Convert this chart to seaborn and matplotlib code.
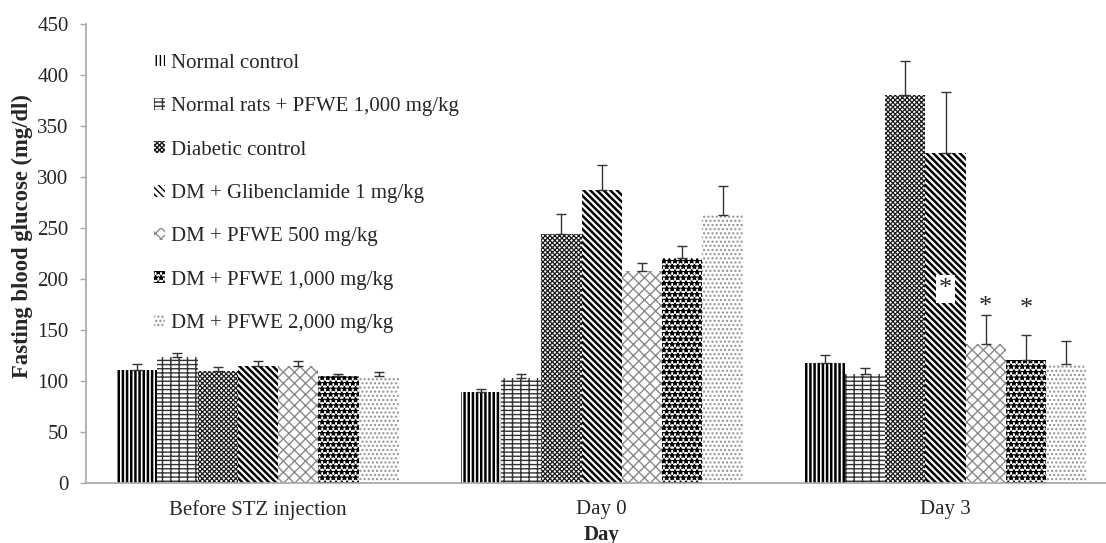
import numpy as np
import pandas as pd
import matplotlib
matplotlib.use("Agg")
import matplotlib.pyplot as plt
import seaborn as sns

days = ["Before STZ injection", "Day 0", "Day 3"]
groups = [
    "Normal control",
    "Normal rats + PFWE 1,000 mg/kg",
    "Diabetic control",
    "DM + Glibenclamide 1 mg/kg",
    "DM + PFWE 500 mg/kg",
    "DM + PFWE 1,000 mg/kg",
    "DM + PFWE 2,000 mg/kg",
]
# mean fasting glucose per group, one list per day
before_stz = [111, 124, 110, 115, 115, 105, 105]
day_0 = [89, 103, 244, 287, 208, 221, 263]
day_3 = [118, 107, 380, 324, 136, 121, 117]
# upper error (SEM) per group, one list per day
before_stz_err = [6, 3, 4, 5, 5, 2, 3.5]
day_0_err = [3.5, 4, 20, 25, 8, 11.5, 28]
day_3_err = [7.5, 5.5, 34, 59, 29, 24.5, 22]
# significance markers on day 3: (group index, y of star, white box)
stars_day3 = [(3, 190, True), (4, 173, False), (5, 171, False)]

means = [before_stz, day_0, day_3]
errs = [before_stz_err, day_0_err, day_3_err]
df = pd.DataFrame({
    "day": np.repeat(days, len(groups)),
    "group": groups * len(days),
    "glucose": np.concatenate(means),
    "err": np.concatenate(errs),
})

sns.set_style("white")
plt.rcParams["font.family"] = ["Liberation Serif", "DejaVu Serif"]
plt.rcParams["hatch.linewidth"] = 1.0

fig = plt.figure(figsize=(11.06, 5.43), dpi=100)
ax = fig.add_axes([0.0778, 0.1105, 0.9325, 0.8453])

sns.barplot(data=df, x="day", y="glucose", hue="group", hue_order=groups,
            order=days, errorbar=None, width=0.82, dodge=True,
            palette=["white"] * len(groups), legend=False, ax=ax)

hatches = ["||||", "----||", "xxxxxxx", "\\\\\\\\\\", "xxx", "***", "...."]
hatch_colors = ["black", "#333333", "#1a1a1a", "black", "#8a8a8a", "black", "#8f8f8f"]
hatch_lws = [1.8, 1.0, 0.9, 1.8, 1.0, 1.0, 1.0]
for cont, h, hc, hl in zip(ax.containers, hatches, hatch_colors, hatch_lws):
    for p in cont.patches:
        p.set_hatch(h)
        p.set_edgecolor(hc)
        p.set_linewidth(0)
        p.set_facecolor("white")
        if hasattr(p, "set_hatch_linewidth"):
            p.set_hatch_linewidth(hl)

# upper error bars from each bar's position
for cont, gname in zip(ax.containers, groups):
    sub = df[df["group"] == gname].set_index("day").loc[days]
    xs = [p.get_x() + p.get_width() / 2 for p in cont.patches]
    ys = sub["glucose"].values
    e = sub["err"].values
    ax.errorbar(xs, ys, yerr=[np.zeros_like(e), e], fmt="none",
                ecolor="#333333", elinewidth=1, capsize=3.6, capthick=1)

# significance stars on day 3
for gi, ys, boxed in stars_day3:
    p = ax.containers[gi].patches[2]
    xc = p.get_x() + p.get_width() / 2
    kw = dict(ha="center", va="center", fontsize=19, color="#222222")
    if boxed:
        kw["bbox"] = dict(boxstyle="square,pad=0.12", fc="white", ec="none")
    ax.text(xc, ys, "*", **kw)

ax.set_ylim(0, 450)
ax.set_xlim(-0.5, 2.5)
ax.set_yticks(np.arange(0, 451, 50))
ax.set_xticks([0, 1, 2])
ax.set_xticklabels(days)
ax.set_xticks([0.5, 1.5], minor=True)
ax.tick_params(axis="x", which="major", length=0, labelsize=15, pad=12)
ax.tick_params(axis="x", which="minor", length=6, color="#a6a6a6", width=1)
ax.tick_params(axis="y", length=4.5, color="#a6a6a6", width=1, labelsize=15,
               left=True, pad=8)
for s in ["top", "right"]:
    ax.spines[s].set_visible(False)
for s in ["left", "bottom"]:
    ax.spines[s].set_color("#a6a6a6")
    ax.spines[s].set_linewidth(1.2)

ax.set_ylabel("Fasting blood glucose (mg/dl)", fontsize=16.3, fontweight="bold")
ax.yaxis.set_label_coords(-0.051, 0.538)
ax.set_xlabel("Day", fontsize=15, fontweight="bold", labelpad=4)

ax.legend(ax.containers, groups, loc="upper left", bbox_to_anchor=(0.066, 0.935),
          frameon=False, fontsize=15, handlelength=0.5, handleheight=0.5,
          handletextpad=0.3, labelspacing=1.17, borderpad=0, borderaxespad=0)

fig.savefig("out.png", dpi=100)
